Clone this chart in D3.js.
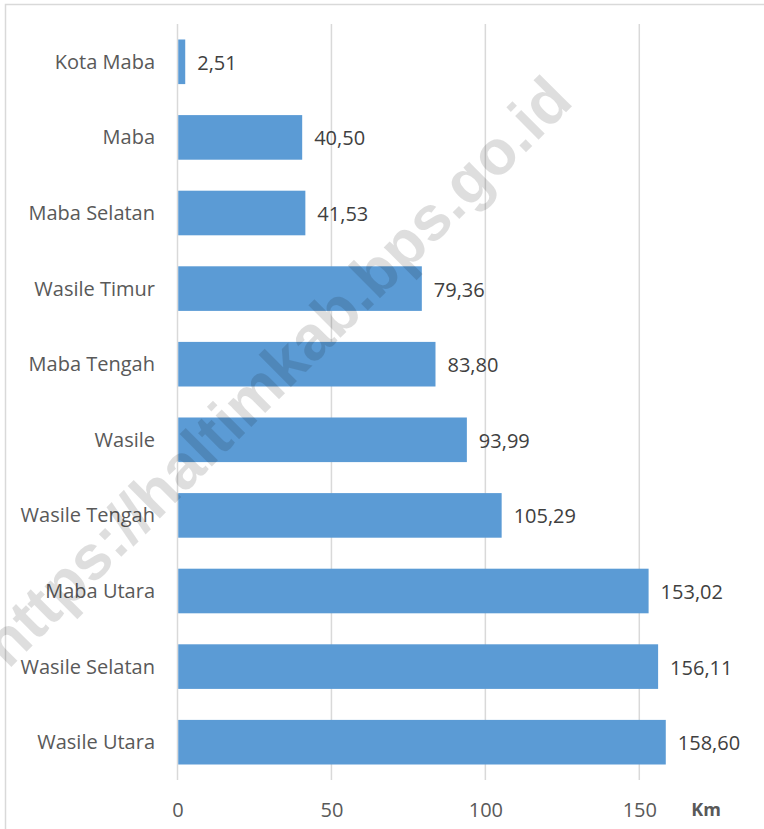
<!DOCTYPE html>
<html>
<head>
<meta charset="utf-8">
<script src="https://cdn.jsdelivr.net/npm/d3@7"></script>
<style>
  html, body { margin: 0; padding: 0; background: #fff; }
  svg { display: block; }
</style>
</head>
<body>
<svg id="chart" width="764" height="829"></svg>
<script>
const categories = ["Kota Maba", "Maba", "Maba Selatan", "Wasile Timur", "Maba Tengah",
  "Wasile", "Wasile Tengah", "Maba Utara", "Wasile Selatan", "Wasile Utara"];
const values = [2.51, 40.50, 41.53, 79.36, 83.80, 93.99, 105.29, 153.02, 156.11, 158.60];
const valueLabels = ["2,51", "40,50", "41,53", "79,36", "83,80", "93,99", "105,29", "153,02", "156,11", "158,60"];
const xTicks = [0, 50, 100, 150];
const unitLabel = "Km";
const watermark = "https://haltimkab.bps.go.id";

const svg = d3.select("#chart");
const font = "'Open Sans', sans-serif";

// outer frame
svg.append("rect").attr("x", 5.5).attr("y", 4.5).attr("width", 800).attr("height", 900)
  .attr("fill", "#fff").attr("stroke", "#d9d9d9").attr("stroke-width", 1.5);

const plotTop = 24, plotBottom = 780;
const x = d3.scaleLinear().domain([0, 150]).range([177.5, 639.3]);
const y = d3.scaleBand().domain(categories).range([plotTop, plotBottom]).paddingInner(0.41).paddingOuter(0.205);

// gridlines
svg.append("g").selectAll("line").data(xTicks).join("line")
  .attr("x1", d => x(d)).attr("x2", d => x(d))
  .attr("y1", plotTop).attr("y2", plotBottom)
  .attr("stroke", "#d9d9d9").attr("stroke-width", 1.5);

// bars
svg.append("g").selectAll("rect").data(values).join("rect")
  .attr("x", x(0) + 0.75)
  .attr("y", (d, i) => y(categories[i]))
  .attr("width", d => x(d) - x(0) - 0.75)
  .attr("height", y.bandwidth())
  .attr("fill", "#5b9bd5");

// value labels
svg.append("g").selectAll("text").data(values).join("text")
  .attr("x", d => x(d) + 12)
  .attr("y", (d, i) => y(categories[i]) + y.bandwidth() / 2 + 1)
  .attr("dy", "0.35em")
  .attr("font-family", font).attr("font-size", 20).attr("fill", "#404040")
  .text((d, i) => valueLabels[i]);

// category axis
const yAxis = d3.axisLeft(y).tickSize(0).tickPadding(0);
const gy = svg.append("g").attr("transform", "translate(155,0)").call(yAxis);
gy.select(".domain").remove();
gy.selectAll("text").attr("font-family", font).attr("font-size", 20).attr("fill", "#595959").attr("dy", "0.35em");

// value axis
const xAxis = d3.axisBottom(x).tickValues(xTicks).tickSize(0).tickPadding(0).tickFormat(d3.format("d"));
const gx = svg.append("g").attr("transform", "translate(0,810)").call(xAxis);
gx.select(".domain").remove();
gx.selectAll("text").attr("font-family", font).attr("font-size", 20).attr("fill", "#595959").attr("dy", "0.35em");

svg.append("text").attr("x", 706).attr("y", 810).attr("dy", "0.35em").attr("text-anchor", "middle")
  .attr("font-family", font).attr("font-size", 18).attr("font-weight", "bold").attr("fill", "#595959")
  .text(unitLabel);

// watermark
svg.append("text")
  .attr("transform", "translate(276,371) rotate(-45)")
  .attr("text-anchor", "middle").attr("dy", "0.35em")
  .attr("font-family", "'Liberation Sans', Arial, sans-serif").attr("font-weight", "bold")
  .attr("font-size", 63).attr("fill", "#000").attr("fill-opacity", 0.13)
  .text(watermark);
</script>
</body>
</html>
